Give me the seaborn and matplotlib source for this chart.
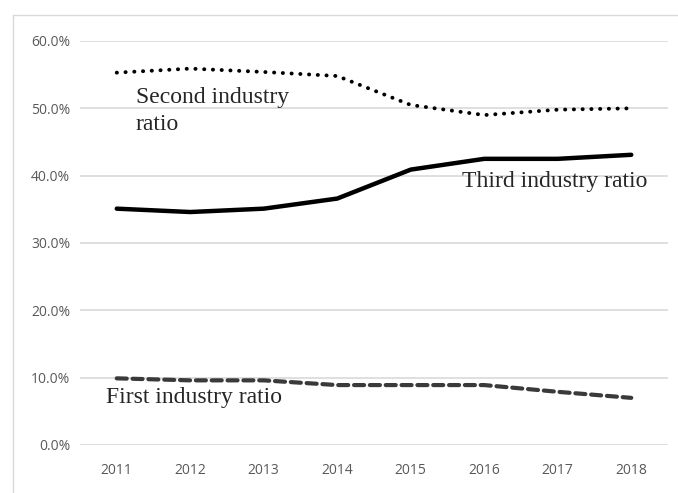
import seaborn as sns
import matplotlib.pyplot as plt
import pandas as pd
from matplotlib.lines import Line2D
from matplotlib.ticker import PercentFormatter

years = ['2011', '2012', '2013', '2014', '2015', '2016', '2017', '2018']
second_industry = [0.553, 0.559, 0.554, 0.548, 0.505, 0.490, 0.498, 0.500]
third_industry = [0.351, 0.346, 0.351, 0.366, 0.409, 0.425, 0.425, 0.431]
first_industry = [0.099, 0.096, 0.096, 0.089, 0.089, 0.089, 0.079, 0.070]

sns.set_style('white')

fig = plt.figure(figsize=(6.78, 4.93), dpi=100)
ax = fig.add_axes([80 / 678, 48 / 493, 588 / 678, 404 / 493])

pos = list(range(len(years)))
df = pd.DataFrame({'pos': pos, 'second': second_industry,
                   'third': third_industry, 'first': first_industry})

sns.lineplot(data=df, x='pos', y='second', ax=ax, color='black', linewidth=2.8,
             linestyle=(0, (0.05, 2.2)), solid_capstyle='round', dash_capstyle='round')
sns.lineplot(data=df, x='pos', y='third', ax=ax, color='black', linewidth=3.2,
             solid_capstyle='round')
sns.lineplot(data=df, x='pos', y='first', ax=ax, color='#3a3a3a', linewidth=3.0,
             linestyle=(0, (2.4, 1.4)), dash_capstyle='round')

ax.set_xlim(-0.5, len(years) - 0.5)
ax.set_ylim(0, 0.6)
ax.set_yticks([0, 0.1, 0.2, 0.3, 0.4, 0.5, 0.6])
ax.yaxis.set_major_formatter(PercentFormatter(1.0, decimals=1))
ax.set_xticks(pos)
ax.set_xticklabels(years)
ax.set_xlabel('')
ax.set_ylabel('')
ax.grid(axis='y', color='#d9d9d9', linewidth=1.2)
ax.set_axisbelow(True)
for s in ax.spines.values():
    s.set_visible(False)
ax.tick_params(axis='both', length=0, labelsize=10, labelcolor='#595959')
ax.tick_params(axis='x', pad=13)
ax.tick_params(axis='y', pad=7)
for lab in ax.get_xticklabels() + ax.get_yticklabels():
    lab.set_family('Open Sans')

serif = 'Liberation Serif'
fs = 17
fig.text(136 / 678, 1 - 97 / 493, 'Second industry', family=serif, fontsize=fs,
         va='center', ha='left')
fig.text(136 / 678, 1 - 125 / 493, 'ratio', family=serif, fontsize=fs,
         va='center', ha='left')
fig.text(462 / 678, 1 - 182 / 493, 'Third industry ratio', family=serif, fontsize=fs,
         va='center', ha='left')
fig.text(106 / 678, 1 - 397 / 493, 'First industry ratio', family=serif, fontsize=fs,
         va='center', ha='left')

# chart-area border
fig.add_artist(Line2D([13 / 678, 1.0], [1 - 15 / 493, 1 - 15 / 493],
                      transform=fig.transFigure, color='#d9d9d9', linewidth=1))
fig.add_artist(Line2D([13 / 678, 13 / 678], [0.0, 1 - 15 / 493],
                      transform=fig.transFigure, color='#d9d9d9', linewidth=1))

fig.savefig('out.png', dpi=100)
